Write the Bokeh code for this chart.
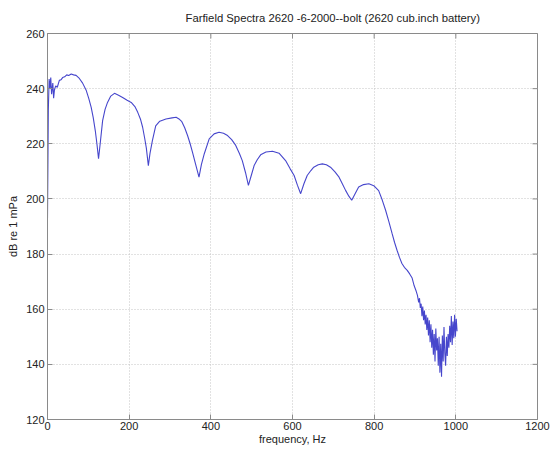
import math
from bokeh.plotting import figure
from bokeh.models import FixedTicker, Range1d
from bokeh.embed import file_html
from bokeh.resources import INLINE

# ---- data ----
title_text = "Farfield Spectra 2620 -6-2000--bolt (2620 cub.inch battery)"
x_label = "frequency, Hz"
y_label = "dB re 1 mPa"
x_ticks = [0, 200, 400, 600, 800, 1000, 1200]
y_ticks = [120, 140, 160, 180, 200, 220, 240, 260]

freq_main = [0, 2, 4, 6, 8, 10, 13, 15, 17, 20, 24, 29, 33, 37, 42, 47, 52, 58, 64, 70,
             78, 86, 95, 101, 107, 112, 117, 121, 125, 129, 135, 141, 147, 155, 164, 174,
             184, 195, 205, 214, 221, 228, 233, 238, 242, 247, 251, 257, 265, 275, 290,
             305, 315, 322, 329, 336, 343, 349, 355, 362, 371, 377, 384, 396, 408, 420,
             431, 441, 451, 461, 470, 477, 485, 492, 499, 506, 514, 522, 535, 551, 567,
             583, 594, 604, 612, 620, 628, 636, 645, 652, 663, 673, 683, 693, 704, 714,
             722, 730, 738, 745, 753, 762, 774, 787, 799, 811, 820, 828, 836, 844, 850,
             856, 862, 868, 874, 881, 887, 893, 898, 903]
db_main = [193, 232, 243.5, 240, 244, 238, 242, 236.5, 239.5, 241, 240.5, 243, 243.2, 244,
           244.3, 245, 244.8, 245.3, 245, 244.8, 243.7, 242, 239.3, 236.5, 233.2, 229.5,
           224.8, 220, 214.6, 220, 228.4, 232.5, 235, 237.3, 238.3, 237.6, 236.8, 235.8,
           235, 233.5, 231.4, 228.8, 226, 222, 218.5, 212.1, 216.5, 221.2, 226.5, 228.2,
           229, 229.4, 229.6, 229, 228, 225.8, 223, 220.2, 217, 213, 207.9, 212.5, 216.4,
           221.8, 223.6, 224.2, 223.8, 223, 221.5, 219.4, 216.5, 213.9, 209.5, 204.9, 208.5,
           212.1, 214.3, 216, 217, 217.3, 216.6, 213.9, 211, 208.5, 205, 201.9, 205.5, 208.5,
           210.3, 211.5, 212.4, 212.7, 212.4, 211.5, 209.8, 207.9, 205.5, 203.1, 201, 199.5,
           201.8, 204.3, 205.2, 205.5, 204.8, 203, 199.5, 195.9, 191.8, 187.4, 184.2, 181.4,
           178.8, 176.6, 175.2, 174.1, 172.8, 171.3, 168.5, 166.5]

freq_noise = [906, 909, 911, 913, 915, 917, 919, 921, 923, 925, 927, 929, 931, 933, 935,
              937, 939, 941, 943, 945, 947, 949, 951, 953, 955, 957, 959, 961, 963, 965,
              967, 969, 971, 973, 975, 977, 979, 981, 983, 985, 987, 989, 991, 993, 995,
              997, 999, 1001, 1003]
db_noise = [165, 162.5, 164, 160.5, 162, 157.5, 161, 156, 159.5, 154.5, 158, 152.5, 157,
            150.5, 156, 148, 154.5, 146, 152.5, 143.5, 151, 141, 153, 145, 149.5, 139.5,
            150, 137, 147.5, 135.5, 150.5, 141, 153.5, 144, 139.5, 150, 143, 151, 146,
            154, 148, 157.5, 147, 155.5, 149.5, 158, 150, 156.5, 152]

freq = freq_main + freq_noise
db = db_main + db_noise

# ---- figure ----
FONT = "Liberation Sans"
AX = "#8a8a8a"
TXT = "#222222"
X0, X1 = x_ticks[0], x_ticks[-1]
Y0, Y1 = y_ticks[0], y_ticks[-1]

p = figure(width=550, height=448, output_backend="svg", toolbar_location=None,
           x_range=Range1d(X0, X1), y_range=Range1d(Y0, Y1),
           min_border_left=47, min_border_right=13, min_border_top=33,
           min_border_bottom=29, background_fill_color="white",
           border_fill_color="white")

p.grid.grid_line_color = "#c4c4c4"
p.grid.grid_line_dash = "1 2"
p.xgrid.ticker = FixedTicker(ticks=x_ticks)
p.ygrid.ticker = FixedTicker(ticks=y_ticks)

p.line(freq, db, line_color="#4646cc", line_width=1.1)

# mirrored inward ticks on the top and right edges of the box
p.scatter(x=x_ticks, y=[Y1] * len(x_ticks), marker="dash", size=10,
          angle=math.pi / 2, line_color=AX, line_width=1)
p.scatter(x=[X1] * len(y_ticks), y=y_ticks, marker="dash", size=10,
          line_color=AX, line_width=1)

p.title.text = title_text
p.title.align = "left"
p.title.offset = 138
p.title.text_font = FONT
p.title.text_font_size = "11.3px"
p.title.text_font_style = "normal"
p.title.text_color = TXT
p.title.standoff = 16
p.title.vertical_align = "top"

p.outline_line_color = AX

for ax in [p.xaxis[0], p.yaxis[0]]:
    ax.major_label_text_font = FONT
    ax.major_label_text_font_size = "11px"
    ax.major_label_text_color = TXT
    ax.axis_line_color = AX
    ax.major_tick_line_color = AX
    ax.major_tick_in = 5
    ax.major_tick_out = 0
    ax.minor_tick_line_color = None
    ax.axis_label_text_font = FONT
    ax.axis_label_text_font_size = "11px"
    ax.axis_label_text_font_style = "normal"
    ax.axis_label_text_color = TXT

p.xaxis[0].ticker = FixedTicker(ticks=x_ticks)
p.yaxis[0].ticker = FixedTicker(ticks=y_ticks)
p.xaxis[0].axis_label = x_label
p.xaxis[0].major_label_standoff = 2
p.xaxis[0].axis_label_standoff = 0
p.yaxis[0].axis_label = y_label
p.yaxis[0].major_label_standoff = 3
p.yaxis[0].axis_label_standoff = 4

open("out.html", "w").write(file_html(p, INLINE))
